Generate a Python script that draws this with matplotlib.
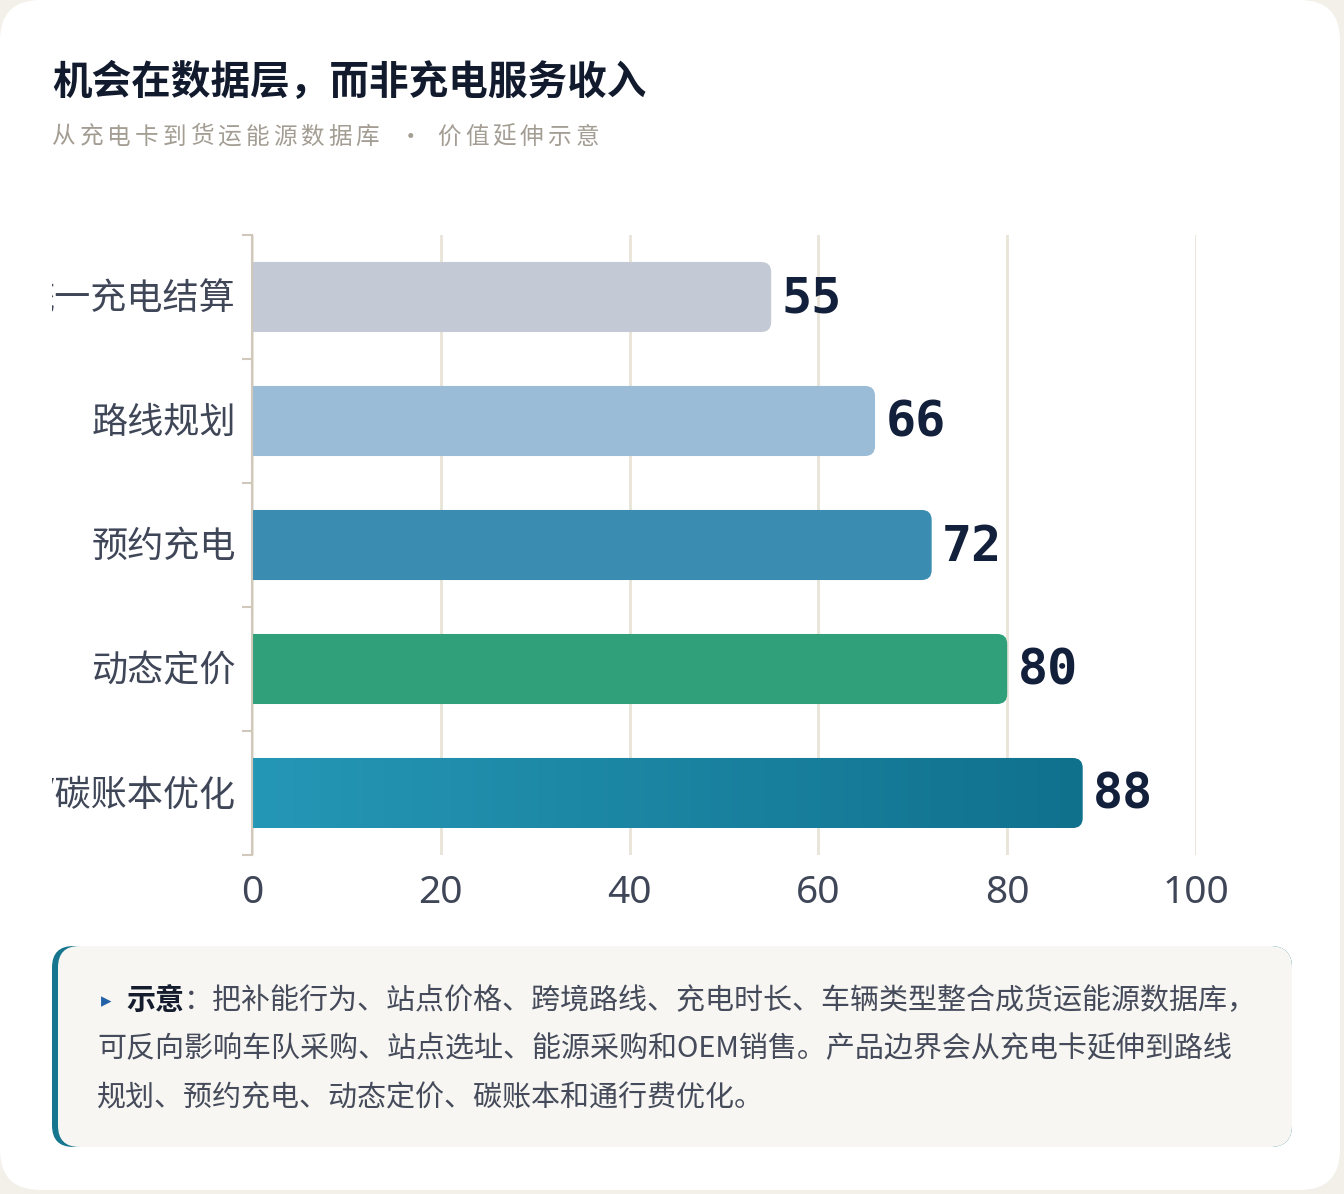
import numpy as np
import matplotlib
matplotlib.use("Agg")
import matplotlib.pyplot as plt
from matplotlib.patches import FancyBboxPatch, Rectangle
from matplotlib.colors import LinearSegmentedColormap

plt.rcParams['font.family'] = ['Noto Sans CJK SC', 'DejaVu Sans']

# data
categories = ["统一充电结算", "路线规划", "预约充电", "动态定价", "通行费/碳账本优化"]
values = [55, 66, 72, 80, 88]
bar_colors = ["#c3cad6", "#9bbcd7", "#3a8db1", "#2fa07a", None]
grad_colors = ["#2597b6", "#10718d"]
xticks = [0, 20, 40, 60, 80, 100]

title = "机会在数据层，而非充电服务收入"
subtitle = "从充电卡到货运能源数据库 · 价值延伸示意"
note_head = "示意"
note_lines = [
    "：把补能行为、站点价格、跨境路线、充电时长、车辆类型整合成货运能源数据库，",
    "可反向影响车队采购、站点选址、能源采购和OEM销售。产品边界会从充电卡延伸到路线",
    "规划、预约充电、动态定价、碳账本和通行费优化。",
]

W, H = 1344, 1194
fig = plt.figure(figsize=(W / 100, H / 100), dpi=100)
fig.patch.set_facecolor("#f3f0ea")


def px(x, y):
    # pixel (top-left origin) -> figure fraction
    return x / W, 1 - y / H


# white card
card = FancyBboxPatch(px(0, 1190), 1340 / W, 1190 / H,
                      boxstyle="round,pad=0,rounding_size=0.03",
                      mutation_aspect=W / H,
                      transform=fig.transFigure, facecolor="white",
                      edgecolor="none", zorder=-3)
fig.patches.append(card)

# title / subtitle
fig.text(*px(52, 82), title, fontsize=28.5, fontweight="bold", color="#121b2e",
         va="center", ha="left")
x0 = 52
for ch in subtitle:
    if ch == " ":
        x0 += 13
        continue
    if ch == "·":
        fig.text(*px(x0 + 14, 137), ch, fontsize=17, color="#a39d93",
                 va="center", ha="center")
        x0 += 28
        continue
    fig.text(*px(x0, 137), ch, fontsize=17, color="#a39d93", va="center", ha="left")
    x0 += 27.6

# chart axes
ax_l, ax_r, ax_t, ax_b = 252, 1196, 235, 855
ax = fig.add_axes([ax_l / W, 1 - ax_b / H, (ax_r - ax_l) / W, (ax_b - ax_t) / H])
ax.set_facecolor("none")

ax.set_xticks(xticks)
ax.xaxis.grid(True, color="#e9e4d8", linewidth=2)
ax.set_axisbelow(True)
ax.tick_params(axis="x", length=0, labelsize=28, colors="#3f4657", pad=14)
for lab in ax.get_xticklabels():
    lab.set_fontfamily(["Noto Sans", "DejaVu Sans"])
for s in ["top", "right", "bottom"]:
    ax.spines[s].set_visible(False)
ax.spines["left"].set_color("#cfc8bb")
ax.spines["left"].set_linewidth(1.5)

ax.set_yticks(range(len(categories)))
ax.set_yticklabels([])
ax.tick_params(axis="y", which="major", length=0)
ax.set_yticks(np.arange(-0.5, len(categories), 1.0), minor=True)
ax.tick_params(axis="y", which="minor", length=7, width=1.5, color="#cfc8bb")

bar_h = 0.565
xr = 10 / 9.44
yr = 10 / 124
for i, (v, c) in enumerate(zip(values, bar_colors)):
    patch = FancyBboxPatch((-3, i - bar_h / 2), v + 3, bar_h,
                           boxstyle=f"round,pad=0,rounding_size={xr}",
                           mutation_aspect=yr / xr,
                           facecolor=c if c else "none", edgecolor="none", zorder=2)
    ax.add_patch(patch)
    if c is None:
        cmap = LinearSegmentedColormap.from_list("g", grad_colors)
        grad = np.linspace(0, 1, 256).reshape(1, -1)
        im = ax.imshow(grad, cmap=cmap, aspect="auto", zorder=2,
                       extent=(0, v, i + bar_h / 2, i - bar_h / 2))
        im.set_clip_path(patch)
    ax.text(v + 1.1, i + 0.015, str(v), va="center", ha="left", fontsize=36,
            fontweight="bold", color="#13203b", family="DejaVu Sans Mono", zorder=3)
ax.set_xlim(0, 100)
ax.set_ylim(len(categories) - 0.5, -0.5)

# category labels, clipped on the left like the original
clip = Rectangle(px(52, 1194), 1, 1, transform=fig.transFigure)
for i, cat in enumerate(categories):
    yfig = 1 - (ax_t + (i + 0.5) * 124 + 2) / H
    t = fig.text((ax_l - 16) / W, yfig, cat, fontsize=26, color="#3f4657",
                 ha="right", va="center")
    t.set_clip_path(clip)

# note box
nx, ny, nw, nh = 52, 946, 1240, 201
accent = FancyBboxPatch(px(nx, ny + nh), nw / W, nh / H,
                        boxstyle="round,pad=0,rounding_size=0.016",
                        mutation_aspect=W / H, transform=fig.transFigure,
                        facecolor="#16768f", edgecolor="none", zorder=-2)
fig.patches.append(accent)
box = FancyBboxPatch(px(nx + 6, ny + nh), (nw - 6) / W, nh / H,
                     boxstyle="round,pad=0,rounding_size=0.016",
                     mutation_aspect=W / H, transform=fig.transFigure,
                     facecolor="#f7f6f2", edgecolor="none", zorder=-1)
fig.patches.append(box)

fig.canvas.draw()
renderer = fig.canvas.get_renderer()
fs = 20.9
fig.text(*px(101, 1001), "▸", fontsize=15, color="#2462a8", va="center", ha="left",
         family=["DejaVu Sans"])
head = fig.text(*px(126, 1001), note_head, fontsize=fs, fontweight="bold",
                color="#141c2e", va="center", ha="left")
hx = head.get_window_extent(renderer).x1 / W
fig.text(hx, 1 - 1001 / H, note_lines[0], fontsize=fs, color="#454b5a",
         va="center", ha="left")
for k, line in enumerate(note_lines[1:]):
    fig.text(*px(97, 1049 + 49 * k), line, fontsize=fs, color="#454b5a",
             va="center", ha="left")

fig.savefig("out.png", dpi=100, facecolor=fig.get_facecolor())
